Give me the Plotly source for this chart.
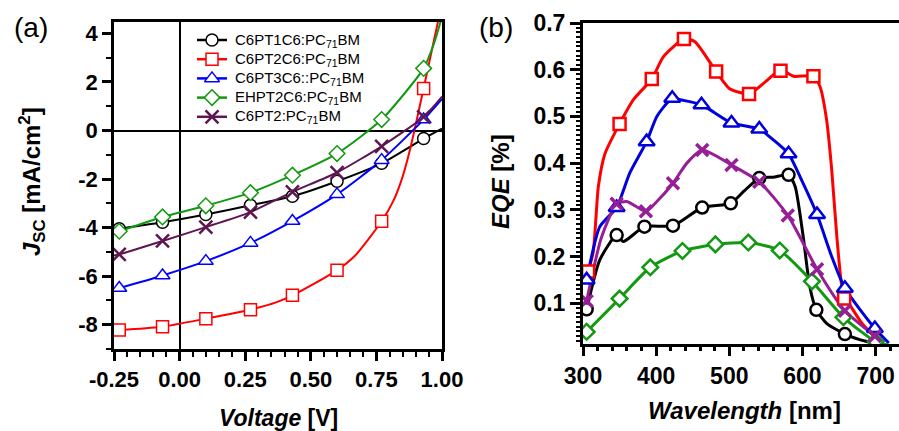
import plotly.graph_objects as go

# ---------------- Panel (a): J-V curves ----------------
V_MARK = [-0.23, -0.065, 0.10, 0.27, 0.43, 0.60, 0.77, 0.93]

J_C6PT1C6 = [-4.05, -3.78, -3.46, -3.08, -2.71, -2.09, -1.35, -0.33]
J_C6PT2C6 = [-8.22, -8.08, -7.75, -7.38, -6.79, -5.76, -3.74, 1.73]
J_C6PT3C6 = [-6.49, -5.97, -5.38, -4.63, -3.73, -2.63, -1.22, 0.45]
J_EHPT2C6 = [-4.15, -3.56, -3.10, -2.56, -1.84, -0.95, 0.45, 2.56]
J_C6PT2 = [-5.10, -4.55, -3.98, -3.36, -2.53, -1.73, -0.65, 0.56]

# line traces (marker points plus points)
LA_C6PT1C6_V = [-0.25, -0.23, -0.065, 0.10, 0.27, 0.43, 0.60, 0.77, 0.93, 1.00]
LA_C6PT1C6_J = [-4.10, -4.05, -3.78, -3.46, -3.08, -2.71, -2.09, -1.35, -0.33, 0.08]
LA_C6PT2C6_V = [-0.25, -0.23, -0.065, 0.10, 0.27, 0.37, 0.43, 0.60, 0.67, 0.77, 0.816, 0.85, 0.88, 0.93, 0.985]
LA_C6PT2C6_J = [-8.24, -8.22, -8.08, -7.75, -7.38, -7.07, -6.79, -5.76, -5.14, -3.74, -2.87, -1.90, -0.70, 1.73, 4.50]
LA_C6PT3C6_V = [-0.25, -0.23, -0.065, 0.10, 0.27, 0.43, 0.60, 0.77, 0.93, 1.00]
LA_C6PT3C6_J = [-6.55, -6.49, -5.97, -5.38, -4.63, -3.73, -2.63, -1.22, 0.45, 1.30]
LA_EHPT2C6_V = [-0.25, -0.23, -0.065, 0.10, 0.27, 0.43, 0.60, 0.77, 0.93, 0.97, 0.995]
LA_EHPT2C6_J = [-4.20, -4.15, -3.56, -3.10, -2.56, -1.84, -0.95, 0.45, 2.56, 3.60, 4.50]
LA_C6PT2_V = [-0.25, -0.23, -0.065, 0.10, 0.27, 0.43, 0.60, 0.77, 0.93, 1.00]
LA_C6PT2_J = [-5.15, -5.10, -4.55, -3.98, -3.36, -2.53, -1.73, -0.65, 0.56, 1.40]

XA_TICKVALS = [-0.25, 0.0, 0.25, 0.50, 0.75, 1.00]
XA_TICKTEXT = ["-0.25", "0.00", "0.25", "0.50", "0.75", "1.00"]
YA_TICKVALS = [4, 2, 0, -2, -4, -6, -8]
YA_TICKTEXT = ["4", "2", "0", "-2", "-4", "-6", "-8"]

# ---------------- Panel (b): EQE spectra ----------------
WL_C6PT1C6 = [305, 346, 384, 423, 463, 502, 541, 581, 619, 658]
EQE_C6PT1C6 = [0.087, 0.246, 0.264, 0.266, 0.305, 0.314, 0.368, 0.375, 0.086, 0.034]
WL_C6PT2C6 = [307, 350, 394, 438, 482, 527, 570, 615, 657]
EQE_C6PT2C6 = [0.168, 0.484, 0.580, 0.666, 0.596, 0.548, 0.598, 0.586, 0.110]
WL_C6PT3C6 = [305, 346, 387, 422, 462, 503, 541, 581, 620, 658, 699]
EQE_C6PT3C6 = [0.150, 0.305, 0.446, 0.539, 0.525, 0.486, 0.473, 0.420, 0.290, 0.132, 0.046]
WL_EHPT2C6 = [305, 350, 392, 436, 481, 526, 569, 613, 656, 700]
EQE_EHPT2C6 = [0.039, 0.110, 0.177, 0.212, 0.226, 0.230, 0.213, 0.147, 0.070, 0.018]
WL_C6PT2 = [305, 346, 386, 423, 463, 503, 541, 580, 620, 658, 699]
EQE_C6PT2 = [0.105, 0.313, 0.297, 0.357, 0.428, 0.396, 0.360, 0.288, 0.173, 0.084, 0.030]

LB_C6PT1C6_W = [305, 323, 346, 355, 384, 423, 463, 502, 520, 541, 560, 581, 590, 601, 610, 619, 633, 658, 688, 705]
LB_C6PT1C6_E = [0.087, 0.193, 0.246, 0.232, 0.264, 0.266, 0.305, 0.314, 0.340, 0.368, 0.370, 0.375, 0.350, 0.243, 0.136, 0.086, 0.057, 0.034, 0.018, 0.013]
LB_C6PT2C6_W = [307, 314, 321, 330, 350, 369, 394, 410, 438, 453, 482, 500, 527, 550, 570, 588, 615, 624, 633, 640, 647, 654, 660, 680, 703]
LB_C6PT2C6_E = [0.168, 0.210, 0.350, 0.420, 0.484, 0.536, 0.580, 0.628, 0.666, 0.660, 0.596, 0.560, 0.548, 0.575, 0.600, 0.586, 0.586, 0.564, 0.493, 0.386, 0.243, 0.136, 0.110, 0.060, 0.020]
LB_C6PT3C6_W = [305, 323, 346, 364, 387, 401, 422, 435, 462, 503, 541, 560, 581, 600, 620, 640, 658, 699, 718]
LB_C6PT3C6_E = [0.150, 0.264, 0.305, 0.379, 0.446, 0.500, 0.539, 0.535, 0.525, 0.486, 0.473, 0.450, 0.420, 0.360, 0.290, 0.200, 0.132, 0.046, 0.015]
LB_EHPT2C6_W = [305, 350, 392, 436, 481, 526, 569, 613, 656, 700, 718]
LB_EHPT2C6_E = [0.039, 0.110, 0.177, 0.212, 0.226, 0.230, 0.213, 0.147, 0.070, 0.018, 0.010]
LB_C6PT2_W = [305, 325, 346, 360, 386, 401, 423, 442, 463, 503, 541, 580, 620, 658, 699, 711]
LB_C6PT2_E = [0.105, 0.240, 0.313, 0.318, 0.297, 0.318, 0.357, 0.400, 0.428, 0.396, 0.360, 0.288, 0.173, 0.084, 0.030, 0.016]

XB_TICKVALS = [300, 400, 500, 600, 700]
YB_TICKVALS = [0.1, 0.2, 0.3, 0.4, 0.5, 0.6, 0.7]

NAMES = ["C6PT1C6:PC<sub>71</sub>BM", "C6PT2C6:PC<sub>71</sub>BM", "C6PT3C6::PC<sub>71</sub>BM",
         "EHPT2C6:PC<sub>71</sub>BM", "C6PT2:PC<sub>71</sub>BM"]
COLORS_A = ["#000000", "#FF0000", "#0000FF", "#119911", "#5E1650"]
COLORS_B = ["#000000", "#FF0000", "#0000DD", "#119911", "#961E96"]
SYMBOLS = ["circle", "square", "triangle-up", "diamond", "x-thin"]

FONT = "Liberation Sans, Arial, sans-serif"
W, H = 899, 431

# legend layout (pixels)
LEG_X0, LEG_X1, LEG_TEXT_X, LEG_Y0, LEG_DY = 197, 227, 233, 40, 19.2

fig = go.Figure()

lines_a = [(LA_C6PT1C6_V, LA_C6PT1C6_J), (LA_C6PT2C6_V, LA_C6PT2C6_J), (LA_C6PT3C6_V, LA_C6PT3C6_J),
           (LA_EHPT2C6_V, LA_EHPT2C6_J), (LA_C6PT2_V, LA_C6PT2_J)]
marks_a = [J_C6PT1C6, J_C6PT2C6, J_C6PT3C6, J_EHPT2C6, J_C6PT2]
lines_b = [(LB_C6PT1C6_W, LB_C6PT1C6_E), (LB_C6PT2C6_W, LB_C6PT2C6_E), (LB_C6PT3C6_W, LB_C6PT3C6_E),
           (LB_EHPT2C6_W, LB_EHPT2C6_E), (LB_C6PT2_W, LB_C6PT2_E)]
marks_b = [(WL_C6PT1C6, EQE_C6PT1C6), (WL_C6PT2C6, EQE_C6PT2C6), (WL_C6PT3C6, EQE_C6PT3C6),
           (WL_EHPT2C6, EQE_EHPT2C6), (WL_C6PT2, EQE_C6PT2)]

def mk(sym, col, size, lw):
    if sym == "x-thin":
        return dict(symbol="x-thin", size=size, line=dict(color=col, width=lw + 1), color=col)
    return dict(symbol=sym, size=size, color="white", line=dict(color=col, width=lw))

def size_a(sym):
    return 13 if sym == "x-thin" else (13 if sym == "triangle-up" else 12)

# panel a
for i in range(5):
    lx, ly = lines_a[i]
    fig.add_trace(go.Scatter(x=lx, y=ly, mode="lines", line=dict(color=COLORS_A[i], width=2, shape="spline", smoothing=0.6),
                             showlegend=False, xaxis="x", yaxis="y", hoverinfo="skip"))
for i in range(5):
    fig.add_trace(go.Scatter(x=V_MARK, y=marks_a[i], mode="markers", marker=mk(SYMBOLS[i], COLORS_A[i], size_a(SYMBOLS[i]), 1.5),
                             showlegend=False, xaxis="x", yaxis="y"))

# panel b
for i in range(5):
    lx, ly = lines_b[i]
    fig.add_trace(go.Scatter(x=lx, y=ly, mode="lines", line=dict(color=COLORS_B[i], width=3, shape="spline", smoothing=0.6),
                             showlegend=False, xaxis="x2", yaxis="y2", hoverinfo="skip"))
for i in range(5):
    mx, my = marks_b[i]
    fig.add_trace(go.Scatter(x=mx, y=my, mode="markers", marker=mk(SYMBOLS[i], COLORS_B[i], 12 if SYMBOLS[i] != "triangle-up" else 14, 2.5),
                             showlegend=False, xaxis="x2", yaxis="y2"))

# legend drawn on a full-page pixel overlay axis
for i in range(5):
    yy = LEG_Y0 + i * LEG_DY
    fig.add_trace(go.Scatter(x=[LEG_X0, LEG_X1], y=[yy, yy], mode="lines", line=dict(color=COLORS_A[i], width=2.5),
                             showlegend=False, xaxis="x3", yaxis="y3", hoverinfo="skip"))
    fig.add_trace(go.Scatter(x=[(LEG_X0 + LEG_X1) / 2], y=[yy], mode="markers",
                             marker=mk(SYMBOLS[i], COLORS_A[i], size_a(SYMBOLS[i]), 1.5),
                             showlegend=False, xaxis="x3", yaxis="y3", hoverinfo="skip"))

axis_common = dict(showgrid=False, showline=True, linecolor="black", ticks="outside", tickcolor="black",
                   tickfont=dict(family=FONT, size=22, color="black", weight="bold"), automargin=False)

fig.update_layout(
    width=W, height=H,
    margin=dict(l=0, r=0, t=0, b=0),
    paper_bgcolor="white", plot_bgcolor="rgba(0,0,0,0)",
    font=dict(family=FONT, color="black"),
    showlegend=False,
    xaxis=dict(**axis_common, domain=[114/W, 442/W], range=[-0.25, 1.0], linewidth=2.5, mirror=True,
               tickvals=XA_TICKVALS, ticktext=XA_TICKTEXT, ticklen=9, tickwidth=2.5,
               minor=dict(dtick=0.05, tick0=0, ticks="outside", ticklen=5, tickwidth=2, tickcolor="black"),
               zeroline=True, zerolinecolor="black", zerolinewidth=2, anchor="y"),
    yaxis=dict(**axis_common, domain=[1-349/H, 1-22/H], range=[-9, 4.47], linewidth=2.5, mirror=True,
               tickvals=YA_TICKVALS, ticktext=YA_TICKTEXT, ticklen=9, tickwidth=2.5,
               minor=dict(dtick=1, tick0=0, ticks="outside", ticklen=5, tickwidth=2, tickcolor="black"),
               zeroline=True, zerolinecolor="black", zerolinewidth=2, anchor="x"),
    xaxis2=dict(**axis_common, domain=[583/W, 1.0], range=[300, 732], linewidth=3, mirror=True,
                tickvals=XB_TICKVALS, ticklen=9, tickwidth=3,
                minor=dict(dtick=20, tick0=300, ticks="outside", ticklen=4, tickwidth=2.5, tickcolor="black"),
                zeroline=False, anchor="y2"),
    yaxis2=dict(**axis_common, domain=[1-344/H, 1-23/H], range=[0.0128, 0.7], linewidth=3, mirror=False,
                tickvals=YB_TICKVALS, tickformat=".1f", ticklen=10, tickwidth=3,
                minor=dict(dtick=0.01, tick0=0, ticks="outside", ticklen=4, tickwidth=2, tickcolor="black"),
                zeroline=False, anchor="x2"),
    xaxis3=dict(domain=[0, 1], range=[0, W], visible=False, anchor="y3", fixedrange=True),
    yaxis3=dict(domain=[0, 1], range=[H, 0], visible=False, anchor="x3", fixedrange=True),
)
fig.update_xaxes(tickfont=dict(size=23), selector=dict(anchor="y2"))
fig.update_yaxes(tickfont=dict(size=23), selector=dict(anchor="x2"))

ann = [
    dict(text="(a)", x=31/W, y=1-28/H, font=dict(size=28)),
    dict(text="(b)", x=496/W, y=1-28/H, font=dict(size=28)),
    dict(text="<b><i>Voltage</i> [V]</b>", x=278/W, y=1-418/H, font=dict(size=23)),
    dict(text="<b><i>Wavelength</i> [nm]</b>", x=744/W, y=1-410/H, font=dict(size=24)),
    dict(text="<b><i>J</i><sub>SC</sub> [mA/cm<sup>2</sup>]</b>", x=32/W, y=1-182/H, font=dict(size=24), textangle=-90),
    dict(text="<b><i>EQE</i> [%]</b>", x=500/W, y=1-181/H, font=dict(size=24), textangle=-90),
]
for a in ann:
    a.update(xanchor="center", yanchor="middle")
for i in range(5):
    ann.append(dict(text=NAMES[i], x=LEG_TEXT_X/W, y=1-(LEG_Y0 + i*LEG_DY)/H, xanchor="left", yanchor="middle",
                    font=dict(size=15)))
for a in ann:
    a.update(xref="paper", yref="paper", showarrow=False)
    a["font"] = dict(family=FONT, color="black", **a["font"])
fig.update_layout(annotations=ann)

fig.write_html("out.html")
